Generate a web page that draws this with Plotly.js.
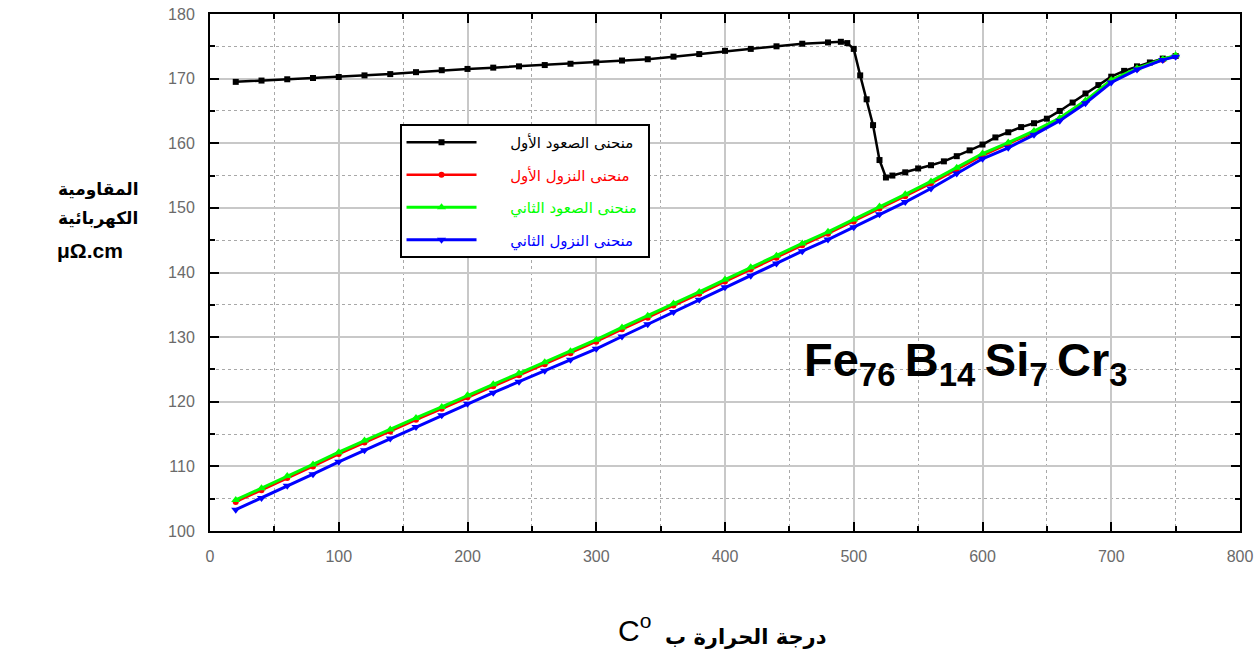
<!DOCTYPE html>
<html>
<head>
<meta charset="utf-8">
<script src="https://cdn.plot.ly/plotly-3.0.1.min.js"></script>
<style>html,body{margin:0;padding:0;background:#fff;}#chart{width:1256px;height:662px;}</style>
</head>
<body>
<div id="chart"></div>
<script>
// Series names
const nameHeat1 = 'منحنى الصعود الأول';
const nameCool1 = 'منحنى النزول الأول';
const nameHeat2 = 'منحنى الصعود الثاني';
const nameCool2 = 'منحنى النزول الثاني';

// First heating (black)
const tHeat1 = [20,40,60,80,100,120,140,160,180,200,220,240,260,280,300,320,340,360,380,400,420,440,460,480,490,495,500,505,510,515,520,525,530,540,550,560,570,580,590,600,610,620,630,640,650,660,670,680,690,700,710,720,730,740,750];
const rHeat1 = [169.5,169.7,169.9,170.1,170.25,170.5,170.7,171.0,171.3,171.5,171.7,171.9,172.1,172.3,172.5,172.8,173.0,173.4,173.8,174.3,174.6,175.0,175.4,175.6,175.7,175.5,174.6,170.5,166.8,162.8,157.4,154.7,155.0,155.5,156.1,156.6,157.2,158.0,158.9,159.8,160.9,161.7,162.5,163.1,163.8,165.0,166.3,167.7,169.0,170.3,171.2,171.9,172.5,173.1,173.5];

// Common temperature grid for the other curves
const tOther = [20,40,60,80,100,120,140,160,180,200,220,240,260,280,300,320,340,360,380,400,420,440,460,480,500,520,540,560,580,600,620,640,660,680,700,720,740,750];
// Second heating (green)
const rHeat2 = [104.8,106.6,108.5,110.3,112.2,114.0,115.7,117.5,119.2,121.0,122.7,124.4,126.1,127.8,129.6,131.5,133.3,135.2,137.0,138.9,140.8,142.6,144.5,146.3,148.2,150.2,152.1,154.1,156.2,158.4,160.1,161.9,163.9,166.6,169.8,171.6,173.0,173.6];
// First cooling (red)
const rCool1 = [104.5,106.3,108.2,110.0,111.9,113.7,115.4,117.2,118.9,120.7,122.4,124.1,125.8,127.5,129.3,131.2,133.0,134.9,136.7,138.6,140.5,142.3,144.2,146.0,147.9,149.9,151.8,153.8,155.9,158.1,159.9,161.7,163.7,166.4,169.7,171.5,172.9,173.5];
// Second cooling (blue)
const rCool2 = [103.3,105.1,107.0,108.8,110.7,112.5,114.3,116.1,117.9,119.7,121.4,123.1,124.8,126.5,128.2,130.1,132.0,133.9,135.8,137.7,139.5,141.4,143.3,145.1,147.0,149.0,150.9,153.0,155.3,157.6,159.3,161.3,163.5,166.2,169.4,171.4,172.9,173.4];

const xTicks = [0,100,200,300,400,500,600,700,800];
const yTicks = [100,110,120,130,140,150,160,170,180];

const mk = (x, y, name, color, symbol, size, lw) => ({
  x: x, y: y,
  name: '\u00a0\u00a0\u00a0\u00a0\u00a0\u00a0<span style="color:' + color + '">' + name + '</span>\u00a0',
  type: 'scatter', mode: 'lines+markers',
  line: {color: color, width: lw},
  marker: {color: color, symbol: symbol, size: size},
  legendgroup: name
});

const traces = [
  mk(tHeat1, rHeat1, nameHeat1, '#000000', 'square', 6, 2.5),
  mk(tOther, rCool1, nameCool1, '#ff0000', 'circle', 6, 2.5),
  mk(tOther, rHeat2, nameHeat2, '#00ff00', 'triangle-up', 8, 3),
  mk(tOther, rCool2, nameCool2, '#0000ff', 'triangle-down', 8, 3)
];

const gridMajor = '#c8c8c8';
const gridMinor = '#a8a8a8';
const tickFont = {family: 'Liberation Sans, Arial, sans-serif', size: 16, color: '#6a6a6a'};

const axisCommon = {
  showline: true, linewidth: 2, linecolor: '#000', mirror: 'allticks',
  ticks: 'inside', ticklen: 9, tickwidth: 2, tickcolor: '#000',
  showgrid: true, gridcolor: gridMajor, gridwidth: 1.5,
  zeroline: false, tickfont: tickFont, ticklabelstandoff: 10
};

const layout = {
  width: 1256, height: 662,
  margin: {l: 210, r: 16, t: 14, b: 131},
  paper_bgcolor: '#fff', plot_bgcolor: '#fff',
  showlegend: true,
  legend: {
    x: 0.184, y: 0.787, xanchor: 'left', yanchor: 'top',
    bordercolor: '#000', borderwidth: 2, bgcolor: '#fff',
    font: {family: 'DejaVu Sans, sans-serif', size: 15, color: '#000'},
    tracegroupgap: 10, itemwidth: 70
  },
  xaxis: Object.assign({}, axisCommon, {
    range: [0, 800], tickvals: xTicks, ticktext: xTicks.map(String),
    minor: {dtick: 50, tick0: 0, showgrid: true, gridcolor: gridMinor, griddash: 'dot', gridwidth: 1, ticks: 'inside', ticklen: 5, tickwidth: 1.5, tickcolor: '#000'}
  }),
  yaxis: Object.assign({}, axisCommon, {
    range: [100, 180], tickvals: yTicks, ticktext: yTicks.map(String),
    minor: {dtick: 5, tick0: 100, showgrid: true, gridcolor: gridMinor, griddash: 'dot', gridwidth: 1, ticks: 'inside', ticklen: 5, tickwidth: 1.5, tickcolor: '#000'}
  }),
  annotations: [
    {xref: 'paper', yref: 'paper', x: -0.1495, y: 0.6596, text: '<b>المقاومية</b>', showarrow: false,
     font: {family: 'DejaVu Sans, sans-serif', size: 17, color: '#000'}},
    {xref: 'paper', yref: 'paper', x: -0.1495, y: 0.6054, text: '<b>الكهربائية</b>', showarrow: false,
     font: {family: 'DejaVu Sans, sans-serif', size: 17, color: '#000'}},
    {xref: 'paper', yref: 'paper', x: -0.1505, y: 0.5416, text: '<b>μΩ.cm</b>', showarrow: false,
     font: {family: 'Liberation Sans, Arial, sans-serif', size: 21, color: '#000'}},
    {xref: 'paper', yref: 'paper', x: 0.520, y: -0.232, text: '<b>درجة الحرارة ب</b>', showarrow: false,
     font: {family: 'DejaVu Sans, sans-serif', size: 21, color: '#000'}},
    {xref: 'paper', yref: 'paper', x: 0.4125, y: -0.228, text: 'C<sup>o</sup>', showarrow: false,
     font: {family: 'Liberation Sans, Arial, sans-serif', size: 30, color: '#000'}},
    {xref: 'x', yref: 'y', x: 587, y: 126.0,
     text: '<b>Fe<sub>76</sub>\u2009B<sub>14</sub>\u2009Si<sub>7</sub>\u2009Cr<sub>3</sub></b>', showarrow: false,
     font: {family: 'Liberation Sans, Arial, sans-serif', size: 47, color: '#000'}}
  ]
};

Plotly.newPlot('chart', traces, layout, {displayModeBar: false, responsive: false});
</script>
</body>
</html>
